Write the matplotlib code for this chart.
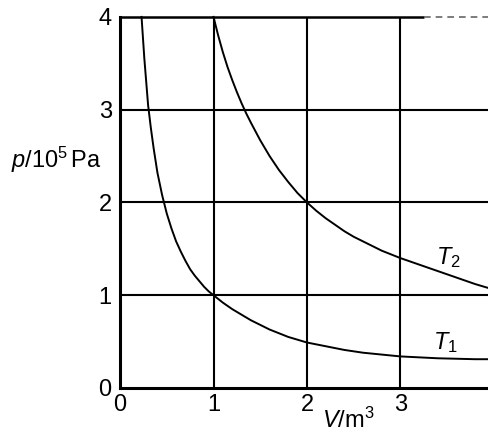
import numpy as np
import matplotlib.pyplot as plt

plt.rcParams['font.family'] = ['Liberation Sans', 'DejaVu Sans']
plt.rcParams['mathtext.fontset'] = 'custom'
plt.rcParams['mathtext.rm'] = 'Liberation Sans'
plt.rcParams['mathtext.it'] = 'Liberation Sans:italic'

# isotherm T1
v_t1 = [0.23, 0.24, 0.26, 0.28, 0.30, 0.33, 0.36, 0.40, 0.45, 0.50, 0.55, 0.60,
        0.65, 0.70, 0.75, 0.80, 0.85, 0.90, 0.95, 1.00, 1.10, 1.20, 1.30, 1.40,
        1.50, 1.60, 1.70, 1.80, 1.90, 2.00, 2.20, 2.40, 2.60, 2.80, 3.00, 3.20,
        3.40, 3.60, 3.80, 4.00, 4.10]
p_t1 = [4.00, 3.85, 3.55, 3.30, 3.05, 2.80, 2.58, 2.32, 2.08, 1.88, 1.72, 1.58,
        1.47, 1.37, 1.28, 1.21, 1.15, 1.09, 1.04, 1.00, 0.92, 0.85, 0.79, 0.73,
        0.68, 0.63, 0.59, 0.55, 0.52, 0.49, 0.45, 0.41, 0.38, 0.36, 0.34, 0.33,
        0.32, 0.315, 0.31, 0.31, 0.31]

# isotherm T2
v_t2 = [1.00, 1.05, 1.10, 1.15, 1.20, 1.25, 1.30, 1.35, 1.40, 1.50, 1.60, 1.70,
        1.80, 1.90, 2.00, 2.10, 2.20, 2.30, 2.40, 2.50, 2.60, 2.70, 2.80, 2.90,
        3.00, 3.20, 3.40, 3.60, 3.80, 4.00, 4.10]
p_t2 = [4.00, 3.80, 3.62, 3.46, 3.32, 3.19, 3.07, 2.96, 2.86, 2.67, 2.50, 2.35,
        2.22, 2.10, 2.00, 1.91, 1.83, 1.76, 1.69, 1.63, 1.58, 1.53, 1.48, 1.44,
        1.40, 1.33, 1.26, 1.19, 1.12, 1.06, 1.03]

x_ticks = [0, 1, 2, 3, 4]
y_ticks = [0, 1, 2, 3, 4]

fig = plt.figure(figsize=(4.88, 4.33), dpi=100)
ax = fig.add_axes([0.246, 0.104, 0.766, 0.857])
ax.set_xlim(0, 4)
ax.set_ylim(0, 4)

# grid
for y in y_ticks[1:4]:
    ax.axhline(y, color='black', lw=1.5, zorder=1)
ax.hlines(4, 0, 3.25, color='black', lw=1.8, zorder=1, clip_on=False)
ax.hlines(4, 3.25, 4, color='#666666', lw=1.2, ls=(0, (4, 3)), zorder=1, clip_on=False)
for x in x_ticks[1:4]:
    ax.axvline(x, color='black', lw=1.5, zorder=1)

ax.plot(v_t1, p_t1, color='black', lw=1.4, zorder=2, clip_on=False)
ax.plot(v_t2, p_t2, color='black', lw=1.4, zorder=2, clip_on=False)

for s in ['top', 'right']:
    ax.spines[s].set_visible(False)
for s in ['left', 'bottom']:
    ax.spines[s].set_linewidth(2.2)

ax.set_xticks(x_ticks)
ax.set_yticks(y_ticks)
ax.tick_params(length=0, labelsize=17)
ax.tick_params(axis='y', pad=6)
ax.tick_params(axis='x', pad=4)

ax.text(3.51, 1.41, r'$T_2$', fontsize=17, ha='center', va='center')
ax.text(3.48, 0.49, r'$T_1$', fontsize=17, ha='center', va='center')

fig.text(0.115, 0.63, r'$p$/10$^5\,$Pa', fontsize=17, ha='center', va='center')
fig.text(0.713, 0.03, r'$V$/m$^3$', fontsize=17, ha='center', va='center')

fig.savefig('out.png', dpi=100)
